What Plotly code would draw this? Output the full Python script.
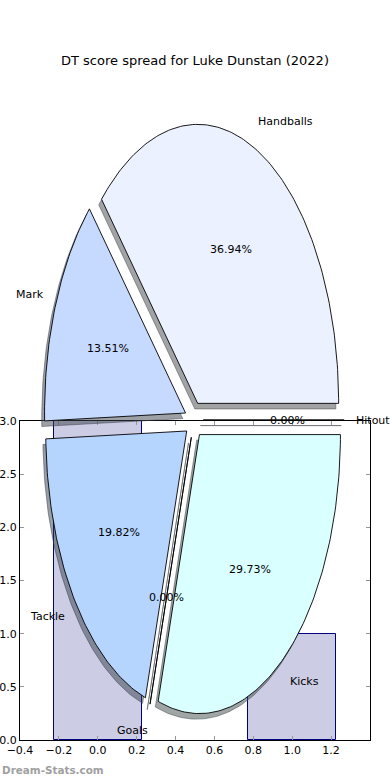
import numpy as np
import plotly.graph_objects as go

# ---------------- data ----------------
title_text = "DT score spread for Luke Dunstan (2022)"
pie_labels = ["Handballs", "Mark", "Tackle", "Goals", "Kicks", "Hitout"]
pie_values = [41, 15, 22, 0, 33, 0]
pie_colors = [(235, 241, 254), (198, 217, 255), (181, 213, 255),
              (205, 230, 255), (218, 255, 255), (225, 235, 255)]
bar_x = [0, 1]
bar_y = [3, 1]
x_ticks = [-0.4, -0.2, 0.0, 0.2, 0.4, 0.6, 0.8, 1.0, 1.2]
y_ticks = [0.0, 0.5, 1.0, 1.5, 2.0, 2.5, 3.0]

# ---------------- style / geometry ----------------
W, H = 390, 780
FONT = "DejaVu Sans"
explode = 0.065
shadow_off = (-0.02, -0.02)
pie_cx_px, pie_cy_px, rx_px, ry_px = 194, 420, 141, 279

fig = go.Figure()

# bars on the main axes
fig.add_trace(go.Bar(
    x=bar_x, y=bar_y, width=0.45,
    marker=dict(color="rgb(204,204,229)", line=dict(color="rgb(0,0,128)", width=1)),
    xaxis="x", yaxis="y", showlegend=False, hoverinfo="skip"))

total = float(sum(pie_values))
fracs = [v / total for v in pie_values]
starts = np.concatenate([[0.0], np.cumsum(fracs)[:-1]]) * 360.0
ends = np.cumsum(fracs) * 360.0

wedges = []
for lab, f, t1, t2, col in zip(pie_labels, fracs, starts, ends, pie_colors):
    tm = np.deg2rad((t1 + t2) / 2.0)
    ox, oy = explode * np.cos(tm), explode * np.sin(tm)
    n = max(2, int(abs(t2 - t1)) + 2)
    th = np.deg2rad(np.linspace(t1, t2, n))
    xs = np.concatenate([[ox], ox + np.cos(th), [ox]])
    ys = np.concatenate([[oy], oy + np.sin(th), [oy]])
    wedges.append((lab, f, tm, ox, oy, xs, ys, col))

# shadows (below every wedge)
for lab, f, tm, ox, oy, xs, ys, col in wedges:
    sc = "rgba(%d,%d,%d,0.5)" % tuple(int(0.3 * c) for c in col)
    fig.add_trace(go.Scatter(
        x=xs + shadow_off[0], y=ys + shadow_off[1], mode="lines", fill="toself",
        fillcolor=sc, line=dict(color=sc, width=1),
        xaxis="x2", yaxis="y2", showlegend=False, hoverinfo="skip"))

# wedges
for lab, f, tm, ox, oy, xs, ys, col in wedges:
    fig.add_trace(go.Scatter(
        x=xs, y=ys, mode="lines", fill="toself",
        fillcolor="rgb(%d,%d,%d)" % col, line=dict(color="black", width=0.9),
        xaxis="x2", yaxis="y2", showlegend=False, hoverinfo="skip"))

annotations = []
for lab, f, tm, ox, oy, xs, ys, col in wedges:
    lx = ox + 1.1 * np.cos(tm)
    ly = oy + 1.1 * np.sin(tm)
    annotations.append(dict(
        x=lx, y=ly, xref="x2", yref="y2", text=lab, showarrow=False,
        xanchor="left" if lx > 0 else "right", yanchor="middle",
        xshift=-4 if lx > 0 else 4,
        font=dict(family=FONT, size=11, color="black")))
    px = ox + 0.6 * np.cos(tm)
    py = oy + 0.6 * np.sin(tm)
    annotations.append(dict(
        x=px, y=py, xref="x2", yref="y2", text="%.2f%%" % (100 * f), showarrow=False,
        xanchor="center", yanchor="middle",
        font=dict(family=FONT, size=11, color="black")))

annotations.append(dict(
    x=0.5, y=1 - 61 / H, xref="paper", yref="paper", text=title_text, showarrow=False,
    xanchor="center", yanchor="middle", font=dict(family=FONT, size=13, color="black")))
annotations.append(dict(
    x=0, y=1 - 770 / H, xref="paper", yref="paper", text="<b>Dream-Stats.com</b>",
    showarrow=False, xanchor="left", yanchor="middle",
    font=dict(family=FONT, size=10.4, color="rgb(160,160,160)")))

x2_range = [-pie_cx_px / rx_px, (W - pie_cx_px) / rx_px]
y2_range = [-(H - pie_cy_px) / ry_px, pie_cy_px / ry_px]

axis_common = dict(showline=True, linecolor="black", linewidth=1, mirror="ticks",
                   ticks="inside", ticklen=4, tickcolor="rgb(150,150,150)",
                   showgrid=False, zeroline=False, automargin=False,
                   tickfont=dict(family=FONT, size=11, color="black"), fixedrange=True)

fig.update_layout(
    width=W, height=H, margin=dict(l=0, r=0, t=0, b=0),
    paper_bgcolor="white", plot_bgcolor="rgba(0,0,0,0)",
    xaxis=dict(domain=[20 / W, 370 / W], range=[-0.4, 1.4], tickvals=x_ticks,
               tickformat=".1f", anchor="y", **axis_common),
    yaxis=dict(domain=[(H - 740) / H, (H - 421) / H], range=[0, 3], tickvals=y_ticks,
               tickformat=".1f", anchor="x", **axis_common),
    xaxis2=dict(domain=[0, 1], range=x2_range, visible=False, anchor="y2", fixedrange=True),
    yaxis2=dict(domain=[0, 1], range=y2_range, visible=False, anchor="x2", fixedrange=True),
    annotations=annotations, showlegend=False, bargap=0,
)

fig.write_html("out.html")
